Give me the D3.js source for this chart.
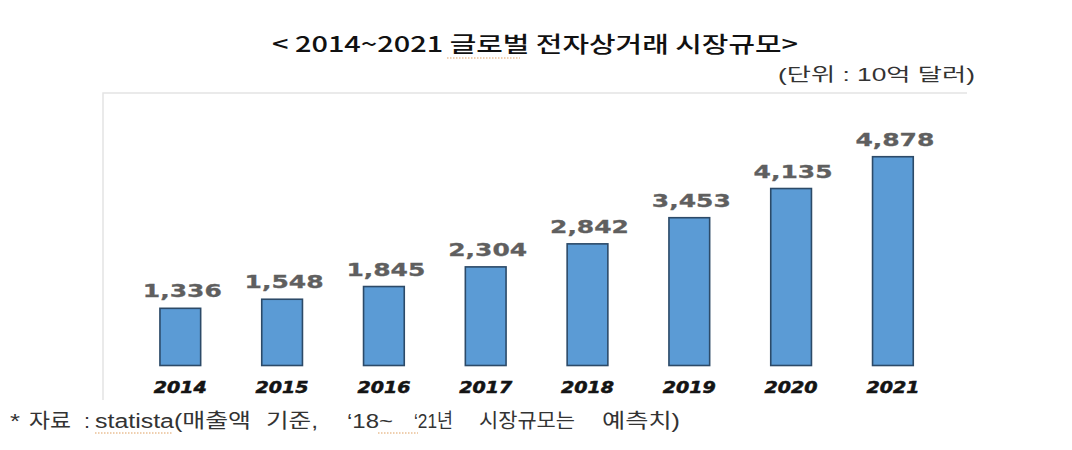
<!DOCTYPE html>
<html>
<head>
<meta charset="utf-8">
<script src="https://cdn.jsdelivr.net/npm/d3@7"></script>
<style>
  body { margin: 0; background: #fff; }
  svg { display: block; }
</style>
</head>
<body>
<div class="vis-barchart"></div>
<script>
const years = ["2014", "2015", "2016", "2017", "2018", "2019", "2020", "2021"];
const sales = [1336, 1548, 1845, 2304, 2842, 3453, 4135, 4878];
const titleText = "< 2014~2021 글로벌 전자상거래 시장규모>";
const unitText = "(단위 : 10억  달러)";
// footnote words (the source has wide, uneven gaps between them)
const sourceWords = ["*", "자료", ":", "statista(매출액", "기준,", "‘18~", "‘21년", "시장규모는", "예측치)"];

const width = 1072, height = 450;

const svg = d3.select('.vis-barchart').append('svg')
    .attr('width', width)
    .attr('height', height);

// light frame lines (top + left)
svg.append("path")
    .attr("d", "M103,400 L103,93 L967,93")
    .attr("fill", "none")
    .attr("stroke", "#e4e4e4")
    .attr("stroke-width", 1.5);

// title + unit
svg.append("text")
    .attr("x", 272).attr("y", 52)
    .attr("textLength", 526).attr("lengthAdjust", "spacingAndGlyphs")
    .style("font-family", "'Noto Sans CJK KR', sans-serif")
    .style("font-size", "22px").style("font-weight", 500)
    .style("fill", "#111")
    .text(titleText);

svg.append("text")
    .attr("x", 778).attr("y", 81)
    .attr("textLength", 197).attr("lengthAdjust", "spacingAndGlyphs")
    .style("font-family", "'Liberation Sans', 'Noto Sans CJK KR', sans-serif")
    .style("font-size", "18px")
    .style("fill", "#333")
    .text(unitText);

// scales
const x = d3.scaleBand()
    .domain(years)
    .range([129.4, 943.8])
    .paddingInner(0.6)
    .paddingOuter(0.3);

const y = d3.scaleLinear()
    .domain([0, 5000])
    .range([365.5, 151.5]);

// bars
svg.selectAll("rect.bar")
  .data(sales)
  .enter()
  .append("rect")
    .attr("class", "bar")
    .attr("x", (d, i) => x(years[i]))
    .attr("y", d => y(d))
    .attr("width", x.bandwidth())
    .attr("height", d => y(0) - y(d))
    .style("fill", "#5b9bd5")
    .style("stroke", "#2c4a68")
    .style("stroke-width", 1.6);

// value labels
svg.selectAll("text.val")
  .data(sales)
  .enter()
  .append("text")
    .attr("class", "val")
    .attr("x", (d, i) => x(years[i]) + x.bandwidth() / 2 + 2)
    .attr("y", d => y(d) - 11)
    .attr("text-anchor", "middle")
    .attr("textLength", 79).attr("lengthAdjust", "spacingAndGlyphs")
    .style("font-family", "'DejaVu Sans', Verdana, sans-serif")
    .style("font-size", "17px").style("font-weight", "bold")
    .style("fill", "#5f5f5f")
    .style("stroke", "#5f5f5f").style("stroke-width", 0.3)
    .text(d => d3.format(",")(d));

// x axis labels
const xAxis = svg.append("g")
    .attr("transform", "translate(0," + y(0) + ")")
    .call(d3.axisBottom(x).tickSize(0).tickPadding(0));
xAxis.select(".domain").remove();
xAxis.selectAll("text")
    .attr("y", 27.5).attr("dy", 0)
    .attr("textLength", 53).attr("lengthAdjust", "spacingAndGlyphs")
    .style("font-family", "'DejaVu Sans', Verdana, sans-serif")
    .style("font-size", "15px").style("font-weight", "bold").style("font-style", "italic")
    .style("fill", "#141414")
    .style("stroke", "#141414").style("stroke-width", 0.5);

// source footnote, word by word
const wordX = [10, 29, 84, 95, 266, 347, 414, 479, 602];
const wordW = [10, 42, 6, 156, 52, 46, 39, 96, 78];
svg.append("g")
  .selectAll("text")
  .data(sourceWords)
  .enter()
  .append("text")
    .attr("x", (d, i) => wordX[i])
    .attr("y", 428)
    .attr("textLength", (d, i) => wordW[i]).attr("lengthAdjust", "spacingAndGlyphs")
    .style("font-family", "'Liberation Sans', 'Noto Sans CJK KR', sans-serif")
    .style("font-size", "20px")
    .style("fill", "#333")
    .text(d => d);

// spell-check squiggles seen in the source image
[[447, 520, 58], [95, 173, 433], [378, 418, 433]].forEach(s => {
  svg.append("line")
      .attr("x1", s[0]).attr("x2", s[1]).attr("y1", s[2]).attr("y2", s[2])
      .attr("stroke", "#e0a060").attr("stroke-width", 1.2)
      .attr("stroke-dasharray", "1.5,1.5");
});
</script>
</body>
</html>
